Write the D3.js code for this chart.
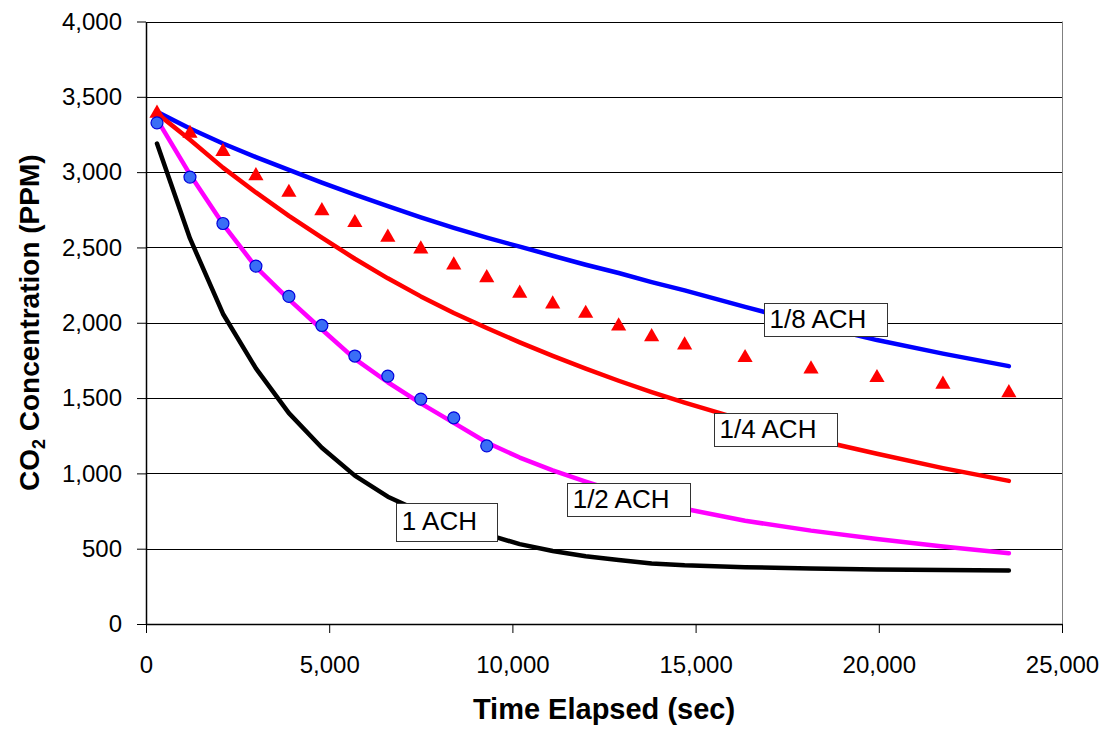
<!DOCTYPE html>
<html>
<head>
<meta charset="utf-8">
<script src="https://cdnjs.cloudflare.com/ajax/libs/d3/7.8.5/d3.min.js"></script>
<style>
  body { margin: 0; background: #fff; }
  svg { display: block; font-family: Arial, "Liberation Sans", sans-serif; }
</style>
</head>
<body>
<div id="chart"></div>
<script>
// Model curve times (sec) and CO2 values (ppm)
const modelTimes = [300, 1200, 2100, 3000, 3900, 4800, 5700, 6600, 7500, 8400, 9300,
    10200, 11100, 12000, 12900, 13800, 14700, 16350, 18150, 19950, 21750, 23550];
const ach1   = [3190, 2560, 2060, 1697, 1400, 1170, 985, 845, 745, 665, 595,
    530, 485, 450, 425, 402, 390, 377, 368, 362, 358, 355];
const achHalf = [3350, 2985, 2655, 2370, 2155, 1955, 1760, 1605, 1465, 1335, 1205,
    1105, 1020, 945, 875, 815, 765, 685, 620, 565, 515, 470];
const achQuarter = [3390, 3215, 3030, 2865, 2710, 2565, 2425, 2295, 2175, 2065, 1965,
    1870, 1780, 1695, 1615, 1540, 1470, 1350, 1230, 1130, 1035, 950];
const achEighth = [3400, 3290, 3190, 3100, 3015, 2930, 2850, 2775, 2700, 2630, 2565,
    2505, 2445, 2385, 2330, 2270, 2215, 2105, 1990, 1885, 1795, 1712];

// Measured points: red triangles
const triTimes = [300, 1200, 2100, 3000, 3900, 4800, 5700, 6600, 7500, 8400, 9300,
    10200, 11100, 12000, 12900, 13800, 14700, 16350, 18150, 19950, 21750, 23550];
const triValues = [3390, 3257, 3136, 2976, 2865, 2743, 2664, 2567, 2489, 2383, 2298,
    2195, 2124, 2062, 1978, 1907, 1852, 1768, 1692, 1635, 1591, 1535];

// Measured points: blue circles
const dotTimes = [300, 1200, 2100, 3000, 3900, 4800, 5700, 6600, 7500, 8400, 9300];
const dotValues = [3327, 2967, 2659, 2376, 2175, 1982, 1779, 1646, 1493, 1369, 1183];

// Ticks
const xTicks = [0, 5000, 10000, 15000, 20000, 25000];
const yTicks = [0, 500, 1000, 1500, 2000, 2500, 3000, 3500, 4000];

// Curve labels (text) and where their boxes sit, in data units (left, top)
const curveLabels = ["1/8 ACH", "1/4 ACH", "1/2 ACH", "1 ACH"];
const labelX = [16855, 15491, 11482, 6818];
const labelY = [2130, 1400, 936, 803];

const series = [
    { values: achEighth, color: "#0000ff" },
    { values: achQuarter, color: "#ff0000" },
    { values: achHalf, color: "#ff00ff" },
    { values: ach1, color: "#000000" }
];

// 1) Dimensions
const width = 1115, height = 730;
const plot = { left: 146, right: 1062, top: 21.5, bottom: 624 };

const svg = d3.select("#chart").append("svg")
    .attr("width", width)
    .attr("height", height);

const x = d3.scaleLinear().domain([0, 25000]).range([plot.left, plot.right]);
const y = d3.scaleLinear().domain([0, 4000]).range([plot.bottom, plot.top]);
const fmt = d3.format(",");

// 2) Gridlines + plot frame
svg.append("g")
    .selectAll("line")
    .data(yTicks.filter(d => d > 0))
    .enter()
    .append("line")
    .attr("x1", plot.left)
    .attr("x2", plot.right)
    .attr("y1", d => Math.round(y(d)) + 0.5)
    .attr("y2", d => Math.round(y(d)) + 0.5)
    .attr("stroke", "#000")
    .attr("stroke-width", 1);

svg.append("line")
    .attr("x1", plot.right + 0.5).attr("x2", plot.right + 0.5)
    .attr("y1", y(4000)).attr("y2", plot.bottom)
    .attr("stroke", "#808080");

// 3) Axes
const xAxis = svg.append("g")
    .attr("transform", `translate(0,${plot.bottom})`)
    .call(d3.axisBottom(x).tickValues(xTicks).tickFormat(fmt).tickSize(9).tickSizeOuter(0));
xAxis.select(".domain").attr("stroke", "#000").attr("stroke-width", 1.5);
xAxis.selectAll("text")
    .attr("font-size", "24px")
    .attr("font-family", "Arial, 'Liberation Sans', sans-serif")
    .attr("fill", "#000")
    .attr("dy", "1.55em");

const yAxis = svg.append("g")
    .attr("transform", `translate(${plot.left},0)`)
    .call(d3.axisLeft(y).tickValues(yTicks).tickFormat(fmt).tickSize(9).tickSizeOuter(0));
yAxis.select(".domain").attr("stroke", "#000").attr("stroke-width", 1.5);
yAxis.selectAll("text")
    .attr("font-size", "24px")
    .attr("font-family", "Arial, 'Liberation Sans', sans-serif")
    .attr("fill", "#000")
    .attr("x", -24);

// 4) Model lines
const line = d3.line()
    .x((d, i) => x(modelTimes[i]))
    .y(d => y(d));

svg.append("g")
    .selectAll("path")
    .data(series)
    .enter()
    .append("path")
    .attr("d", d => line(d.values))
    .attr("fill", "none")
    .attr("stroke", d => d.color)
    .attr("stroke-width", 4.5)
    .attr("stroke-linecap", "round")
    .attr("stroke-linejoin", "round");

// 5) Measured markers
svg.append("g")
    .selectAll("path")
    .data(triValues)
    .enter()
    .append("path")
    .attr("d", d3.symbol().type(d3.symbolTriangle).size(100))
    .attr("transform", (d, i) => `translate(${x(triTimes[i])},${y(d)})`)
    .attr("fill", "#ff0000");

svg.append("g")
    .selectAll("circle")
    .data(dotValues)
    .enter()
    .append("circle")
    .attr("cx", (d, i) => x(dotTimes[i]))
    .attr("cy", d => y(d))
    .attr("r", 6)
    .attr("fill", "#3a6ef6")
    .attr("stroke", "#0000dd")
    .attr("stroke-width", 1.2);

// 6) Curve labels in boxes
curveLabels.forEach((label, i) => {
    const bx = x(labelX[i]);
    const by = y(labelY[i]);
    const g = svg.append("g");
    const rect = g.append("rect");
    const t = g.append("text")
        .attr("x", bx + 6)
        .attr("y", by + 25)
        .attr("font-size", "26px")
        .attr("fill", "#000")
        .text(label);
    const tw = t.node().getComputedTextLength();
    rect.attr("x", Math.round(bx) + 0.5)
        .attr("y", Math.round(by) + 0.5)
        .attr("width", Math.round(tw + 26))
        .attr("height", label === "1 ACH" ? 38 : 33)
        .attr("fill", "#fff")
        .attr("stroke", "#333")
        .attr("stroke-width", 1);
    if (label === "1 ACH") t.attr("y", by + 27);
});

// 7) Axis titles
svg.append("text")
    .attr("x", (plot.left + plot.right) / 2)
    .attr("y", 719)
    .attr("text-anchor", "middle")
    .attr("font-size", "29px")
    .attr("font-weight", "bold")
    .text("Time Elapsed (sec)");

const yTitle = svg.append("text")
    .attr("transform", `translate(39,${(plot.top + plot.bottom) / 2}) rotate(-90)`)
    .attr("text-anchor", "middle")
    .attr("font-size", "28px")
    .attr("font-weight", "bold");
yTitle.append("tspan").text("CO");
yTitle.append("tspan").attr("font-size", "18px").attr("dy", 6).text("2");
yTitle.append("tspan").attr("dy", -6).text(" Concentration (PPM)");
</script>
</body>
</html>
